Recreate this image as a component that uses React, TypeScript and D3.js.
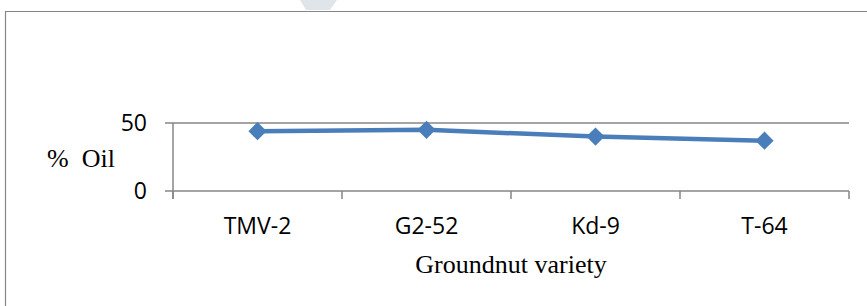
import { useMemo } from "react";
import { scaleBand, scaleLinear, line as d3Line, symbol, symbolSquare } from "d3";

const categories = ["TMV-2", "G2-52", "Kd-9", "T-64"];
const oilValues = [44, 45, 40, 37];
const yTicks = [0, 50];

const width = 867;
const height = 306;
const grey = "#868686";
const blue = "#4a7ebb";

export default function App() {
  const x = useMemo(() => scaleBand<string>().domain(categories).range([173, 849]), []);
  const y = useMemo(() => scaleLinear().domain([0, 50]).range([191, 123]), []);

  const points = categories.map((c, i) => [x(c)! + x.bandwidth() / 2, y(oilValues[i])] as [number, number]);
  const path = d3Line()(points) ?? undefined;
  // square turned 45° gives the Excel-style diamond
  const diamond = symbol().type(symbolSquare).size(165)() ?? undefined;

  const [x0, x1] = x.range();
  const tickXs = [...categories.map((c) => x(c)!), x1];

  return (
    <svg
      width={width}
      height={height}
      style={{ position: "absolute", left: 0, top: 0, background: "#fff" }}
    >
      {/* faint watermark at the top */}
      <polygon points="300,0 337,0 330,10 306,10" fill="#dfe5e8" />
      {/* chart frame */}
      <line x1={5.5} y1={11} x2={5.5} y2={height} stroke={grey} strokeWidth={1.2} />
      <line x1={5} y1={11.5} x2={width} y2={11.5} stroke={grey} strokeWidth={1.2} />

      {/* gridlines */}
      {yTicks.map((t) => (
        <line key={t} x1={x0 - 8} x2={x1} y1={y(t)} y2={y(t)} stroke={grey} strokeWidth={1.5} />
      ))}
      {/* y axis */}
      <line x1={x0} x2={x0} y1={y(50)} y2={y(0) + 8} stroke={grey} strokeWidth={1.5} />
      {/* category ticks */}
      {tickXs.map((tx, i) => (
        <line key={i} x1={tx} x2={tx} y1={y(0)} y2={y(0) + 8} stroke={grey} strokeWidth={1.5} />
      ))}

      {yTicks.map((t) => (
        <text
          key={t}
          x={147}
          y={y(t) + 8}
          textAnchor="end"
          fontFamily="'Open Sans', sans-serif"
          fontSize={23}
          fill="#000"
        >
          {t}
        </text>
      ))}

      {categories.map((c) => (
        <text
          key={c}
          x={x(c)! + x.bandwidth() / 2}
          y={234}
          textAnchor="middle"
          fontFamily="'Open Sans', sans-serif"
          fontSize={23}
          fill="#000"
        >
          {c}
        </text>
      ))}

      <text x={47} y={167} fontFamily="'Liberation Serif', serif" fontSize={26} fill="#000" xmlSpace="preserve">
        {"%  Oil"}
      </text>
      <text
        x={511}
        y={273}
        textAnchor="middle"
        fontFamily="'Liberation Serif', serif"
        fontSize={26}
        fill="#000"
      >
        Groundnut variety
      </text>

      <path d={path} fill="none" stroke={blue} strokeWidth={4.5} strokeLinejoin="round" />
      {points.map(([px, py], i) => (
        <path key={i} d={diamond} transform={`translate(${px},${py}) rotate(45)`} fill={blue} />
      ))}
    </svg>
  );
}
